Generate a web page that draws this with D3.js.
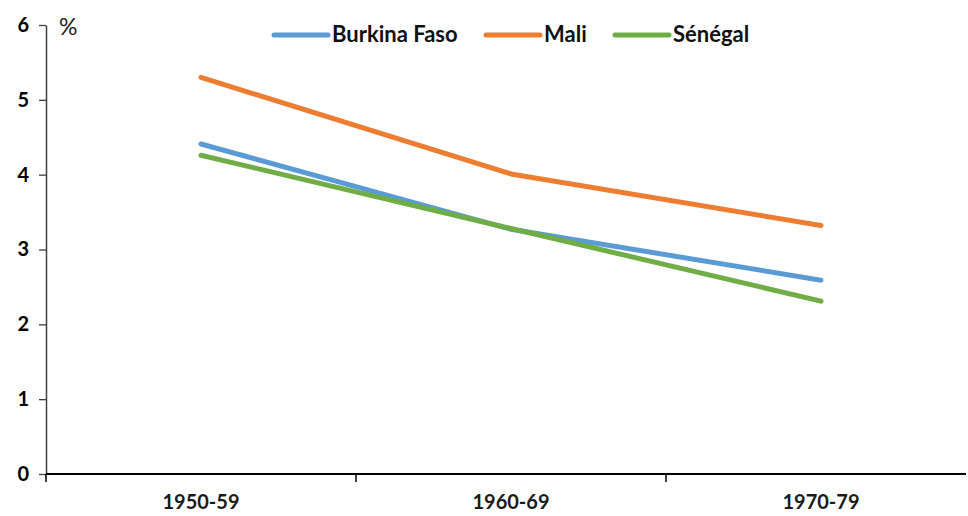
<!DOCTYPE html>
<html><head><meta charset="utf-8">
<script src="https://cdn.jsdelivr.net/npm/d3@7"></script>
<style>body{margin:0;background:#fff}svg{display:block}</style>
</head><body>
<script>
const categories = ["1950-59", "1960-69", "1970-79"];
const burkina = [4.41, 3.27, 2.59];
const mali = [5.30, 4.01, 3.32];
const senegal = [4.26, 3.28, 2.31];
const yTicks = [0, 1, 2, 3, 4, 5, 6];
const seriesNames = ["Burkina Faso", "Mali", "Sénégal"];
const seriesColors = ["#5B9BD5", "#ED7D31", "#70AD47"];
const seriesData = [burkina, mali, senegal];

const W = 968, H = 516;
const svg = d3.select("body").append("svg").attr("width", W).attr("height", H);
const font = "Lato, 'Open Sans', sans-serif";

const x = d3.scaleBand().domain(categories).range([46, 976]);
const y = d3.scaleLinear().domain([0, 6]).range([474, 25]);

// Y axis
const yAxis = svg.append("g").attr("transform", "translate(46,0)")
  .call(d3.axisLeft(y).tickValues(yTicks).tickSize(7).tickSizeOuter(0).tickFormat(d3.format("d")));
yAxis.select(".domain").attr("stroke", "#404040").attr("stroke-width", 1.5);
yAxis.selectAll(".tick line").attr("stroke", "#404040").attr("stroke-width", 1.3);
yAxis.selectAll(".tick text").attr("font-family", font).attr("font-weight", "bold")
  .attr("font-size", 20).attr("fill", "#000").attr("x", -17);

// X axis
const xAxis = svg.append("g").attr("transform", "translate(0,474)");
xAxis.append("line").attr("x1", 46).attr("x2", 966).attr("y1", 0).attr("y2", 0)
  .attr("stroke", "#000").attr("stroke-width", 2);
xAxis.selectAll("line.tk").data(categories).enter().append("line").attr("class", "tk")
  .attr("x1", d => x(d)).attr("x2", d => x(d)).attr("y1", 0).attr("y2", 8)
  .attr("stroke", "#000").attr("stroke-width", 1.5);
xAxis.selectAll("text").data(categories).enter().append("text")
  .attr("x", d => x(d) + x.bandwidth() / 2).attr("y", 35)
  .attr("text-anchor", "middle").attr("font-family", font).attr("font-weight", "bold")
  .attr("font-size", 20).attr("fill", "#1a1a1a").text(d => d);

// Lines
const line = d3.line().x((d, i) => x(categories[i]) + x.bandwidth() / 2).y(d => y(d));
seriesData.forEach((s, i) => {
  svg.append("path").datum(s).attr("d", line).attr("fill", "none")
    .attr("stroke", seriesColors[i]).attr("stroke-width", 5)
    .attr("stroke-linecap", "round").attr("stroke-linejoin", "round");
});

// % label
svg.append("text").attr("x", 59).attr("y", 35).attr("font-family", font)
  .attr("font-size", 23).attr("fill", "#222").text("%");

// Legend
const legendX = [274, 486, 615];
seriesNames.forEach((n, i) => {
  const g = svg.append("g").attr("transform", `translate(${legendX[i]},35)`);
  g.append("line").attr("x1", 0).attr("x2", 54).attr("y1", 0).attr("y2", 0)
    .attr("stroke", seriesColors[i]).attr("stroke-width", 5).attr("stroke-linecap", "round");
  g.append("text").attr("x", 58).attr("y", 7).attr("font-family", font).attr("font-weight", "bold")
    .attr("font-size", 22).attr("fill", "#111").text(n);
});
</script>
</body></html>
